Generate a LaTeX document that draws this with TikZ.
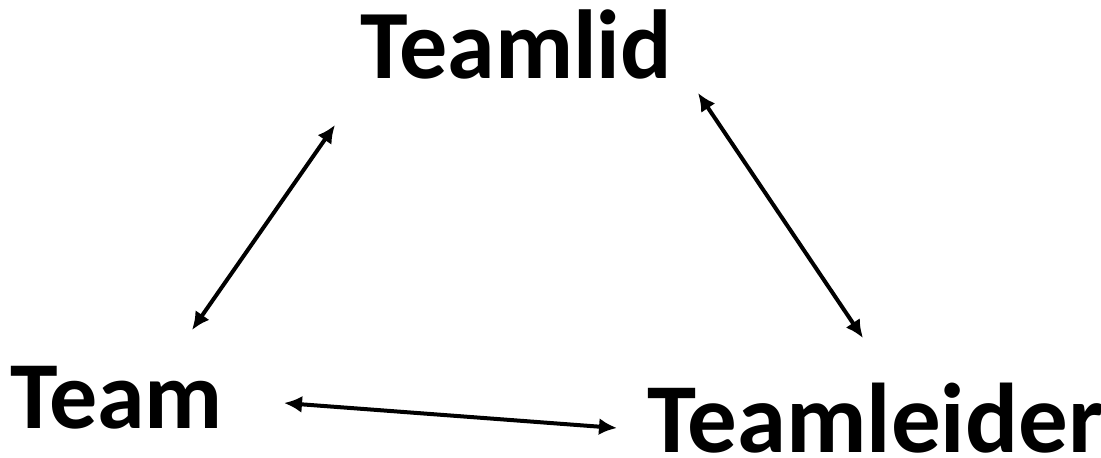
\documentclass[tikz,border=0pt]{standalone}
\usepackage{fontspec}
\setmainfont{Carlito}
\usetikzlibrary{arrows.meta}
\begin{document}
\begin{tikzpicture}[x=1pt,y=-1pt,
  lbl/.style={inner sep=0pt,outer sep=0pt,font=\bfseries,anchor=base west},
  link/.style={line width=4pt,{Latex[length=18pt,width=17pt]}-{Latex[length=18pt,width=17pt]}}]
\useasboundingbox (0,0) rectangle (1101,458);
\node[lbl,xscale=0.98,font=\fontsize{98}{98}\selectfont\bfseries] (teamlid) at (360,78) {Teamlid};
\node[lbl,font=\fontsize{96}{96}\selectfont\bfseries] (team) at (10,428) {Team};
\node[lbl,font=\fontsize{99}{99}\selectfont\bfseries] (leider) at (647,452) {Teamleider};
\coordinate (a1) at (335,125);
\coordinate (a2) at (192,330);
\coordinate (b1) at (698,93);
\coordinate (b2) at (863,338);
\coordinate (c1) at (284,403);
\coordinate (c2) at (617,428);
\draw[link] (a2) -- (a1);
\draw[link] (b1) -- (b2);
\draw[link] (c1) -- (c2);
\end{tikzpicture}
\end{document}
